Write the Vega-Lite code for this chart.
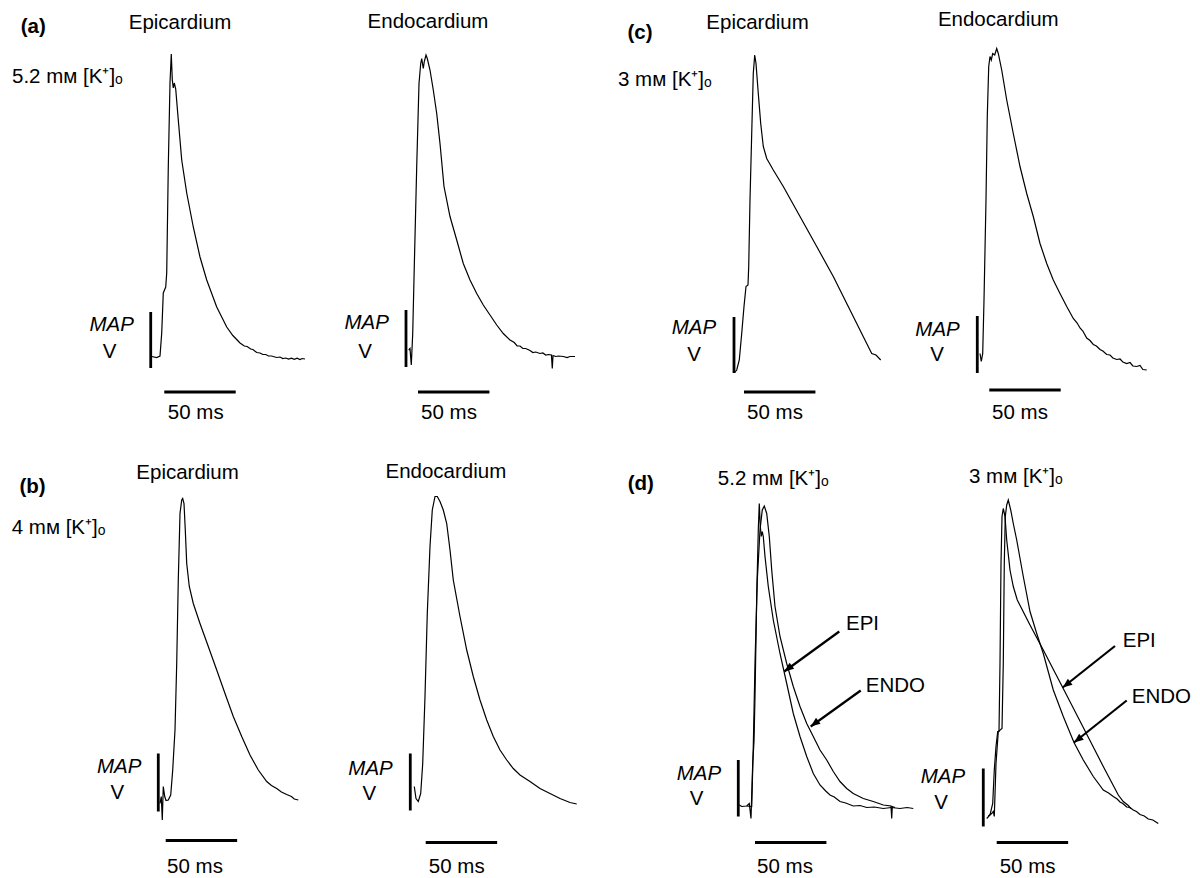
{
  "$schema": "https://vega.github.io/schema/vega-lite/v6.json",
  "padding": 0,
  "background": "white",
  "spacing": 0,
  "config": {
    "view": {"stroke": null},
    "line": {"color": "black", "strokeWidth": 1.2},
    "rule": {"color": "black"},
    "text": {"font": "Liberation Sans", "fontSize": 20.5, "color": "black"}
  },
  "datasets": {
    "aEpi": [{"t":106.2,"v":0.7},{"t":109.7,"v":0.5},{"t":112,"v":0.8},{"t":113.2,"v":5.4},{"t":114.3,"v":13.4},{"t":116,"v":14.6},{"t":116.7,"v":17.4},{"t":117.8,"v":38.6},{"t":119,"v":55.4},{"t":119.9,"v":61.2},{"t":120.6,"v":56},{"t":121.3,"v":54.4},{"t":122,"v":55.4},{"t":123,"v":54.2},{"t":124.8,"v":48},{"t":127.2,"v":40},{"t":130.7,"v":33.4},{"t":135.3,"v":26.6},{"t":140,"v":20.6},{"t":144.7,"v":16},{"t":151.7,"v":10.6},{"t":158.7,"v":6.6},{"t":163,"v":4.9},{"t":168,"v":3.4},{"t":171,"v":2.8},{"t":173,"v":2.7},{"t":175.5,"v":2.2},{"t":177,"v":2.1},{"t":179.7,"v":1.5},{"t":182,"v":1.4},{"t":184,"v":1.1},{"t":186,"v":1.1},{"t":188,"v":0.8},{"t":190,"v":0.8},{"t":193.7,"v":0.5},{"t":196,"v":0.6},{"t":198,"v":0.3},{"t":200,"v":0.4},{"t":202,"v":0.2},{"t":204,"v":0.35},{"t":206,"v":0.15},{"t":208,"v":0.35},{"t":210,"v":0.1},{"t":211.5,"v":0.3},{"t":213.5,"v":0.2}],
    "aEndo": [{"t":62.1,"v":2},{"t":63,"v":2.3},{"t":63.9,"v":-1},{"t":64.9,"v":5.3},{"t":66,"v":18.7},{"t":67.7,"v":38.7},{"t":69.3,"v":55.3},{"t":70.5,"v":59.3},{"t":71.2,"v":60.3},{"t":72.3,"v":58.3},{"t":73,"v":59.7},{"t":74.2,"v":61},{"t":75.1,"v":60.3},{"t":77,"v":58},{"t":79.3,"v":54},{"t":81.7,"v":49.3},{"t":84,"v":43.3},{"t":86.8,"v":34.7},{"t":91,"v":28.7},{"t":95.7,"v":24},{"t":100.3,"v":19.3},{"t":105,"v":16},{"t":109.7,"v":13.3},{"t":114.3,"v":11},{"t":119,"v":9},{"t":123.7,"v":7},{"t":128.3,"v":5.3},{"t":133,"v":4},{"t":136,"v":3.5},{"t":138,"v":2.8},{"t":140,"v":2.8},{"t":142,"v":2.3},{"t":144,"v":2.3},{"t":147,"v":1.9},{"t":149,"v":1.5},{"t":151,"v":1.6},{"t":154,"v":1.3},{"t":156,"v":1.4},{"t":158,"v":1.0},{"t":160,"v":1.1},{"t":162,"v":1},{"t":162.6,"v":-1.7},{"t":163.1,"v":0.9},{"t":165,"v":0.7},{"t":167,"v":0.8},{"t":170.3,"v":0.7},{"t":173,"v":0.5},{"t":175,"v":0.7},{"t":178.5,"v":0.7}],
    "cEpi": [{"t":94.3,"v":-2.5},{"t":95.7,"v":-2},{"t":97.5,"v":0},{"t":99.2,"v":5.3},{"t":100.8,"v":10.7},{"t":102.2,"v":14.7},{"t":103.6,"v":15},{"t":104.1,"v":18.7},{"t":105,"v":32},{"t":106.2,"v":45.3},{"t":107.3,"v":57.3},{"t":108.3,"v":61},{"t":109.2,"v":59.3},{"t":110.8,"v":53.3},{"t":112.5,"v":47.3},{"t":114.3,"v":42.7},{"t":116.7,"v":40.3},{"t":121.3,"v":38},{"t":128.3,"v":34.7},{"t":140,"v":28.7},{"t":151.7,"v":22.7},{"t":163.3,"v":16.7},{"t":175,"v":10},{"t":186.7,"v":3.3},{"t":190.2,"v":1.3},{"t":193.2,"v":1},{"t":196.5,"v":0}],
    "cEndo": [{"t":56,"v":1.3},{"t":56.9,"v":-0.3},{"t":57.9,"v":1.3},{"t":58.8,"v":12},{"t":60.2,"v":32},{"t":61.1,"v":48.7},{"t":62.1,"v":58.7},{"t":63,"v":60.7},{"t":63.9,"v":60},{"t":64.9,"v":61.3},{"t":66.3,"v":61},{"t":67.7,"v":62.3},{"t":68.8,"v":61.3},{"t":71.2,"v":58},{"t":74.7,"v":52},{"t":79.3,"v":45.3},{"t":84,"v":38.7},{"t":88.7,"v":33.3},{"t":93.3,"v":28.7},{"t":98,"v":23.3},{"t":102.7,"v":19.3},{"t":107.3,"v":16},{"t":112,"v":13.3},{"t":116.7,"v":10.7},{"t":121.3,"v":8.3},{"t":124,"v":7.4},{"t":126,"v":6.4},{"t":128,"v":5.8},{"t":130.7,"v":4.4},{"t":133,"v":3.9},{"t":135.3,"v":3.1},{"t":137.5,"v":2.8},{"t":140,"v":2.1},{"t":142,"v":1.8},{"t":144.7,"v":1.1},{"t":147,"v":1.0},{"t":149,"v":0.4},{"t":151.7,"v":0.1},{"t":154,"v":0.2},{"t":156,"v":-0.4},{"t":158.7,"v":-0.7},{"t":161,"v":-0.5},{"t":163,"v":-1.2},{"t":165.7,"v":-1.3},{"t":168,"v":-1.1},{"t":170,"v":-1.9},{"t":172.7,"v":-2}],
    "bEpi": [{"t":112,"v":-0.7},{"t":112.9,"v":0.7},{"t":113.6,"v":-4},{"t":114.3,"v":2.7},{"t":115.3,"v":0.7},{"t":116.2,"v":-0.1},{"t":117.8,"v":0},{"t":119.5,"v":1},{"t":120.9,"v":6},{"t":122.5,"v":14},{"t":123.7,"v":27.3},{"t":124.8,"v":44},{"t":126,"v":57.3},{"t":127.2,"v":60},{"t":127.9,"v":60.3},{"t":128.8,"v":59.3},{"t":129.7,"v":54},{"t":130.7,"v":47.3},{"t":132.5,"v":42.7},{"t":135.3,"v":39.3},{"t":140,"v":35.3},{"t":145.8,"v":30.7},{"t":151.7,"v":26},{"t":157.5,"v":21.3},{"t":163.3,"v":16.7},{"t":169.2,"v":12.7},{"t":175,"v":9},{"t":180.8,"v":6},{"t":186.7,"v":3.7},{"t":190,"v":2.9},{"t":193.7,"v":2.3},{"t":197,"v":1.6},{"t":200.7,"v":1.1},{"t":204,"v":0.7},{"t":206,"v":0.2},{"t":208.8,"v":0}],
    "bEndo": [{"t":66,"v":2.7},{"t":67.2,"v":0.3},{"t":68.8,"v":-0.3},{"t":70.5,"v":1.3},{"t":71.9,"v":7.3},{"t":73.5,"v":20.7},{"t":75.1,"v":37.3},{"t":77,"v":50.7},{"t":78.6,"v":58},{"t":80.5,"v":60.7},{"t":82.1,"v":60.7},{"t":84,"v":59.7},{"t":86.3,"v":58},{"t":88.7,"v":55.3},{"t":91,"v":50},{"t":93.3,"v":44},{"t":98,"v":36.7},{"t":102.7,"v":30},{"t":107.3,"v":24.7},{"t":112,"v":20},{"t":116.7,"v":16},{"t":121.3,"v":12.7},{"t":126,"v":10},{"t":130.7,"v":8},{"t":135.3,"v":6.3},{"t":140,"v":5},{"t":147,"v":3.7},{"t":154,"v":2.3},{"t":161,"v":1.3},{"t":168,"v":0.3},{"t":175,"v":-0.5},{"t":179.7,"v":-0.8}],
    "d52": [{"trace":"EPI","t":97.5,"v":-1},{"trace":"EPI","t":99.2,"v":-1.3},{"trace":"EPI","t":102.7,"v":-1.2},{"trace":"EPI","t":104.5,"v":-0.7},{"trace":"EPI","t":105.7,"v":-3.7},{"trace":"EPI","t":106.9,"v":7.3},{"trace":"EPI","t":107.8,"v":11.7},{"trace":"EPI","t":108.5,"v":20.7},{"trace":"EPI","t":109.7,"v":40.7},{"trace":"EPI","t":110.8,"v":54},{"trace":"EPI","t":111.5,"v":59.3},{"trace":"EPI","t":112.2,"v":54.7},{"trace":"EPI","t":112.9,"v":52.7},{"trace":"EPI","t":113.6,"v":53.7},{"trace":"EPI","t":114.3,"v":52.7},{"trace":"EPI","t":115.5,"v":48.7},{"trace":"EPI","t":117.8,"v":42.7},{"trace":"EPI","t":121.3,"v":36},{"trace":"EPI","t":126,"v":29.3},{"trace":"EPI","t":130.7,"v":23.3},{"trace":"EPI","t":135.3,"v":17.3},{"trace":"EPI","t":140,"v":12.7},{"trace":"EPI","t":144.7,"v":8.7},{"trace":"EPI","t":149.3,"v":5.3},{"trace":"EPI","t":154,"v":3},{"trace":"EPI","t":158,"v":1.8},{"trace":"EPI","t":161,"v":1},{"trace":"EPI","t":164,"v":0.6},{"trace":"EPI","t":168,"v":-0.3},{"trace":"EPI","t":172,"v":-0.6},{"trace":"EPI","t":177.3,"v":-1.2},{"trace":"EPI","t":182,"v":-1.1},{"trace":"EPI","t":186.7,"v":-1.5},{"trace":"EPI","t":192,"v":-1.4},{"trace":"EPI","t":198.3,"v":-1.7},{"trace":"EPI","t":204,"v":-1.5},{"trace":"EPI","t":210,"v":-1.7},{"trace":"EPI","t":215,"v":-1.5},{"trace":"EPI","t":219.3,"v":-1.7},
      {"trace":"ENDO","t":102.7,"v":-1.2},{"trace":"ENDO","t":106.2,"v":-1.3},{"trace":"ENDO","t":107.3,"v":10.7},{"trace":"ENDO","t":108.5,"v":27.3},{"trace":"ENDO","t":110.1,"v":44},{"trace":"ENDO","t":112,"v":54},{"trace":"ENDO","t":113.6,"v":58},{"trace":"ENDO","t":115,"v":58.8},{"trace":"ENDO","t":116.7,"v":57.3},{"trace":"ENDO","t":118.5,"v":52.7},{"trace":"ENDO","t":120.2,"v":46},{"trace":"ENDO","t":122.5,"v":38.7},{"trace":"ENDO","t":126,"v":32.7},{"trace":"ENDO","t":130.7,"v":27.3},{"trace":"ENDO","t":135.3,"v":22.7},{"trace":"ENDO","t":140,"v":18.7},{"trace":"ENDO","t":144.7,"v":15.3},{"trace":"ENDO","t":149.3,"v":12.7},{"trace":"ENDO","t":154,"v":10},{"trace":"ENDO","t":158.7,"v":8},{"trace":"ENDO","t":163.3,"v":5.7},{"trace":"ENDO","t":168,"v":3.7},{"trace":"ENDO","t":172.7,"v":2.3},{"trace":"ENDO","t":177.3,"v":1.3},{"trace":"ENDO","t":184.3,"v":0.3},{"trace":"ENDO","t":191.3,"v":-0.3},{"trace":"ENDO","t":198.3,"v":-1},{"trace":"ENDO","t":203.7,"v":-1.2},{"trace":"ENDO","t":204.2,"v":-3.7},{"trace":"ENDO","t":204.6,"v":-1.3},{"trace":"ENDO","t":206.5,"v":-1.5}],
    "d3": [{"trace":"EPI","t":39.7,"v":-3.7},{"trace":"EPI","t":42,"v":-3},{"trace":"EPI","t":43.9,"v":-0.7},{"trace":"EPI","t":45,"v":6},{"trace":"EPI","t":46.2,"v":10.7},{"trace":"EPI","t":47.4,"v":13.7},{"trace":"EPI","t":48.3,"v":13.7},{"trace":"EPI","t":49,"v":27.3},{"trace":"EPI","t":49.7,"v":47.3},{"trace":"EPI","t":50.4,"v":56.7},{"trace":"EPI","t":51.3,"v":58.3},{"trace":"EPI","t":52.5,"v":56.7},{"trace":"EPI","t":53.7,"v":52},{"trace":"EPI","t":56,"v":46},{"trace":"EPI","t":58.3,"v":42.7},{"trace":"EPI","t":61.1,"v":40},{"trace":"EPI","t":70,"v":35},{"trace":"EPI","t":79.3,"v":30},{"trace":"EPI","t":93.8,"v":22},{"trace":"EPI","t":107.3,"v":14.5},{"trace":"EPI","t":121.3,"v":6.7},{"trace":"EPI","t":131.8,"v":1},{"trace":"EPI","t":135.3,"v":-0.3},{"trace":"EPI","t":138.8,"v":-1.1},{"trace":"EPI","t":140.5,"v":-1.7},
      {"trace":"ENDO","t":40.8,"v":-3.2},{"trace":"ENDO","t":43.2,"v":-2.7},{"trace":"ENDO","t":44.3,"v":-2.3},{"trace":"ENDO","t":45,"v":-3.3},{"trace":"ENDO","t":46.2,"v":7.3},{"trace":"ENDO","t":47.8,"v":13.7},{"trace":"ENDO","t":50.4,"v":14.3},{"trace":"ENDO","t":51.3,"v":27.3},{"trace":"ENDO","t":52,"v":47.3},{"trace":"ENDO","t":52.7,"v":56.7},{"trace":"ENDO","t":53.7,"v":59},{"trace":"ENDO","t":54.8,"v":60},{"trace":"ENDO","t":56.5,"v":58},{"trace":"ENDO","t":58.3,"v":55.3},{"trace":"ENDO","t":60.7,"v":52},{"trace":"ENDO","t":65.3,"v":44.7},{"trace":"ENDO","t":70,"v":37.7},{"trace":"ENDO","t":74.7,"v":33.3},{"trace":"ENDO","t":79.3,"v":29.3},{"trace":"ENDO","t":86.3,"v":22},{"trace":"ENDO","t":93.3,"v":16.7},{"trace":"ENDO","t":100.8,"v":11.5},{"trace":"ENDO","t":107.3,"v":8},{"trace":"ENDO","t":114.3,"v":4.7},{"trace":"ENDO","t":121.3,"v":2},{"trace":"ENDO","t":125,"v":1.4},{"trace":"ENDO","t":128.3,"v":0.7},{"trace":"ENDO","t":131,"v":0.2},{"trace":"ENDO","t":133,"v":-0.4},{"trace":"ENDO","t":135,"v":-0.7},{"trace":"ENDO","t":137.7,"v":-1.4},{"trace":"ENDO","t":140,"v":-1.5},{"trace":"ENDO","t":142.3,"v":-2.0},{"trace":"ENDO","t":144.5,"v":-2.3},{"trace":"ENDO","t":147,"v":-2.9},{"trace":"ENDO","t":150,"v":-3.2},{"trace":"ENDO","t":152.8,"v":-3.8},{"trace":"ENDO","t":156,"v":-4.0},{"trace":"ENDO","t":159.8,"v":-4.7}],
    "bars": [
      {"panel":"a-epi","bar":"MAP","t":105.5,"v":9.6,"t2":105.5,"v2":-1.6},{"panel":"a-epi","bar":"time","t":115,"v":-6.4,"t2":165,"v2":-6.4},
      {"panel":"a-endo","bar":"MAP","t":60.2,"v":10,"t2":60.2,"v2":-1.4},{"panel":"a-endo","bar":"time","t":68.6,"v":-6.4,"t2":118.6,"v2":-6.4},
      {"panel":"c-epi","bar":"MAP","t":93.8,"v":8.6,"t2":93.8,"v2":-2.6},{"panel":"c-epi","bar":"time","t":100.8,"v":-6.4,"t2":150.8,"v2":-6.4},
      {"panel":"c-endo","bar":"MAP","t":54.1,"v":8.8,"t2":54.1,"v2":-2.6},{"panel":"c-endo","bar":"time","t":62.5,"v":-6,"t2":112.5,"v2":-6},
      {"panel":"b-epi","bar":"MAP","t":110.8,"v":9.3,"t2":110.8,"v2":-2.3},{"panel":"b-epi","bar":"time","t":116,"v":-8.1,"t2":166,"v2":-8.1},
      {"panel":"b-endo","bar":"MAP","t":63.2,"v":9.3,"t2":63.2,"v2":-2.1},{"panel":"b-endo","bar":"time","t":74,"v":-8.5,"t2":124,"v2":-8.5},
      {"panel":"d-52","bar":"MAP","t":96.8,"v":8,"t2":96.8,"v2":-3.3},{"panel":"d-52","bar":"time","t":108.5,"v":-8.5,"t2":158.5,"v2":-8.5},
      {"panel":"d-3","bar":"MAP","t":37.3,"v":6.3,"t2":37.3,"v2":-5.3},{"panel":"d-3","bar":"time","t":46.7,"v":-8.5,"t2":96.7,"v2":-8.5}
    ],
    "arrows": [
      {"panel":"d-52","label":"EPI","t":167.5,"v":33.7,"t2":129,"v2":25.7},
      {"panel":"d-52","label":"ENDO","t":182.5,"v":21.9,"t2":147.5,"v2":14.7},
      {"panel":"d-3","label":"EPI","t":129.5,"v":30.8,"t2":92.9,"v2":22.5},
      {"panel":"d-3","label":"ENDO","t":137.7,"v":19.9,"t2":100.8,"v2":11.5}
    ],
    "labels": [
      {"panel":"a-epi","kind":"letter","text":"(a)","t":23.3,"v":66.6},
      {"panel":"a-epi","kind":"title","text":"Epicardium","t":126,"v":67.4},
      {"panel":"a-epi","kind":"cond","text":"5.2 mᴍ [K⁺]ₒ","t":8.4,"v":56.6},
      {"panel":"a-epi","kind":"map","text":"MAP","t":78.2,"v":7},
      {"panel":"a-epi","kind":"unit","text":"V","t":76.7,"v":1.6},
      {"panel":"a-epi","kind":"scale","text":"50 ms","t":137,"v":-10.6},
      {"panel":"a-endo","kind":"title","text":"Endocardium","t":75.6,"v":67.6},
      {"panel":"a-endo","kind":"map","text":"MAP","t":32.7,"v":7.4},
      {"panel":"a-endo","kind":"unit","text":"V","t":31.5,"v":1.6},
      {"panel":"a-endo","kind":"scale","text":"50 ms","t":90.3,"v":-10.6},
      {"panel":"c-epi","kind":"letter","text":"(c)","t":28,"v":65.4},
      {"panel":"c-epi","kind":"title","text":"Epicardium","t":110.3,"v":67.4},
      {"panel":"c-epi","kind":"cond","text":"3 mᴍ [K⁺]ₒ","t":12.6,"v":56},
      {"panel":"c-epi","kind":"map","text":"MAP","t":65.8,"v":6.4},
      {"panel":"c-epi","kind":"unit","text":"V","t":65.8,"v":1},
      {"panel":"c-epi","kind":"scale","text":"50 ms","t":122.5,"v":-10.6},
      {"panel":"c-endo","kind":"title","text":"Endocardium","t":68.8,"v":68},
      {"panel":"c-endo","kind":"map","text":"MAP","t":26.3,"v":6},
      {"panel":"c-endo","kind":"unit","text":"V","t":25.9,"v":1},
      {"panel":"c-endo","kind":"scale","text":"50 ms","t":84,"v":-10.6},
      {"panel":"b-epi","kind":"letter","text":"(b)","t":22.8,"v":62.7},
      {"panel":"b-epi","kind":"title","text":"Epicardium","t":131.3,"v":65.5},
      {"panel":"b-epi","kind":"cond","text":"4 mᴍ [K⁺]ₒ","t":8.2,"v":54.4},
      {"panel":"b-epi","kind":"map","text":"MAP","t":83.4,"v":6.7},
      {"panel":"b-epi","kind":"unit","text":"V","t":82.1,"v":1.5},
      {"panel":"b-epi","kind":"scale","text":"50 ms","t":136.5,"v":-13.4},
      {"panel":"b-endo","kind":"title","text":"Endocardium","t":88.1,"v":65.7},
      {"panel":"b-endo","kind":"map","text":"MAP","t":35.4,"v":6.3},
      {"panel":"b-endo","kind":"unit","text":"V","t":34.5,"v":1.3},
      {"panel":"b-endo","kind":"scale","text":"50 ms","t":95.7,"v":-13.4},
      {"panel":"d-52","kind":"letter","text":"(d)","t":28.6,"v":63.3},
      {"panel":"d-52","kind":"title","text":"5.2 mᴍ [K⁺]ₒ","t":121.3,"v":64.3},
      {"panel":"d-52","kind":"map","text":"MAP","t":69.3,"v":5.3},
      {"panel":"d-52","kind":"unit","text":"V","t":67.7,"v":0.3},
      {"panel":"d-52","kind":"scale","text":"50 ms","t":129.5,"v":-13.4},
      {"panel":"d-52","kind":"arrow","text":"EPI","t":172.2,"v":35.3},
      {"panel":"d-52","kind":"arrow","text":"ENDO","t":186,"v":22.8},
      {"panel":"d-3","kind":"title","text":"3 mᴍ [K⁺]ₒ","t":60.1,"v":64.7},
      {"panel":"d-3","kind":"map","text":"MAP","t":9.1,"v":4.6},
      {"panel":"d-3","kind":"unit","text":"V","t":7.7,"v":-0.6},
      {"panel":"d-3","kind":"scale","text":"50 ms","t":68.3,"v":-13.4},
      {"panel":"d-3","kind":"arrow","text":"EPI","t":134.9,"v":31.9},
      {"panel":"d-3","kind":"arrow","text":"ENDO","t":141.2,"v":20.7}
    ]
  },
  "vconcat": [
    {
      "spacing": 0,
      "bounds": "flush",
      "hconcat": [
        {
          "width": 320, "height": 430,
          "encoding": {
            "x": {"field": "t", "type": "quantitative", "axis": null, "scale": {"domain": [0, 224], "nice": false, "zero": false}},
            "y": {"field": "v", "type": "quantitative", "axis": null, "scale": {"domain": [-14, 72], "nice": false, "zero": false}}
          },
          "layer": [
            {"data": {"name": "aEpi"}, "mark": {"type": "line"}},
            {"data": {"name": "bars"}, "transform": [{"filter": "datum.panel === 'a-epi'"}], "mark": {"type": "rule", "strokeWidth": 2.8}, "encoding": {"x2": {"field": "t2"}, "y2": {"field": "v2"}}},
            {"data": {"name": "labels"}, "transform": [{"filter": "datum.panel === 'a-epi' && (datum.kind === 'title' || datum.kind === 'scale' || datum.kind === 'unit')"}], "mark": {"type": "text", "align": "center", "baseline": "middle"}, "encoding": {"text": {"field": "text"}}},
            {"data": {"name": "labels"}, "transform": [{"filter": "datum.panel === 'a-epi' && (datum.kind === 'cond' || datum.kind === 'arrow')"}], "mark": {"type": "text", "align": "left", "baseline": "middle"}, "encoding": {"text": {"field": "text"}}},
            {"data": {"name": "labels"}, "transform": [{"filter": "datum.panel === 'a-epi' && datum.kind === 'letter'"}], "mark": {"type": "text", "align": "center", "baseline": "middle", "fontWeight": "bold"}, "encoding": {"text": {"field": "text"}}},
            {"data": {"name": "labels"}, "transform": [{"filter": "datum.panel === 'a-epi' && datum.kind === 'map'"}], "mark": {"type": "text", "align": "center", "baseline": "middle", "fontStyle": "italic"}, "encoding": {"text": {"field": "text"}}}
          ]
        },
        {
          "width": 280, "height": 430,
          "encoding": {
            "x": {"field": "t", "type": "quantitative", "axis": null, "scale": {"domain": [0, 196], "nice": false, "zero": false}},
            "y": {"field": "v", "type": "quantitative", "axis": null, "scale": {"domain": [-14, 72], "nice": false, "zero": false}}
          },
          "layer": [
            {"data": {"name": "aEndo"}, "mark": {"type": "line"}},
            {"data": {"name": "bars"}, "transform": [{"filter": "datum.panel === 'a-endo'"}], "mark": {"type": "rule", "strokeWidth": 2.8}, "encoding": {"x2": {"field": "t2"}, "y2": {"field": "v2"}}},
            {"data": {"name": "labels"}, "transform": [{"filter": "datum.panel === 'a-endo' && (datum.kind === 'title' || datum.kind === 'scale' || datum.kind === 'unit')"}], "mark": {"type": "text", "align": "center", "baseline": "middle"}, "encoding": {"text": {"field": "text"}}},
            {"data": {"name": "labels"}, "transform": [{"filter": "datum.panel === 'a-endo' && datum.kind === 'map'"}], "mark": {"type": "text", "align": "center", "baseline": "middle", "fontStyle": "italic"}, "encoding": {"text": {"field": "text"}}}
          ]
        },
        {
          "width": 300, "height": 430,
          "encoding": {
            "x": {"field": "t", "type": "quantitative", "axis": null, "scale": {"domain": [0, 210], "nice": false, "zero": false}},
            "y": {"field": "v", "type": "quantitative", "axis": null, "scale": {"domain": [-14, 72], "nice": false, "zero": false}}
          },
          "layer": [
            {"data": {"name": "cEpi"}, "mark": {"type": "line"}},
            {"data": {"name": "bars"}, "transform": [{"filter": "datum.panel === 'c-epi'"}], "mark": {"type": "rule", "strokeWidth": 2.8}, "encoding": {"x2": {"field": "t2"}, "y2": {"field": "v2"}}},
            {"data": {"name": "labels"}, "transform": [{"filter": "datum.panel === 'c-epi' && (datum.kind === 'title' || datum.kind === 'scale' || datum.kind === 'unit')"}], "mark": {"type": "text", "align": "center", "baseline": "middle"}, "encoding": {"text": {"field": "text"}}},
            {"data": {"name": "labels"}, "transform": [{"filter": "datum.panel === 'c-epi' && (datum.kind === 'cond' || datum.kind === 'arrow')"}], "mark": {"type": "text", "align": "left", "baseline": "middle"}, "encoding": {"text": {"field": "text"}}},
            {"data": {"name": "labels"}, "transform": [{"filter": "datum.panel === 'c-epi' && datum.kind === 'letter'"}], "mark": {"type": "text", "align": "center", "baseline": "middle", "fontWeight": "bold"}, "encoding": {"text": {"field": "text"}}},
            {"data": {"name": "labels"}, "transform": [{"filter": "datum.panel === 'c-epi' && datum.kind === 'map'"}], "mark": {"type": "text", "align": "center", "baseline": "middle", "fontStyle": "italic"}, "encoding": {"text": {"field": "text"}}}
          ]
        },
        {
          "width": 300, "height": 430,
          "encoding": {
            "x": {"field": "t", "type": "quantitative", "axis": null, "scale": {"domain": [0, 210], "nice": false, "zero": false}},
            "y": {"field": "v", "type": "quantitative", "axis": null, "scale": {"domain": [-14, 72], "nice": false, "zero": false}}
          },
          "layer": [
            {"data": {"name": "cEndo"}, "mark": {"type": "line"}},
            {"data": {"name": "bars"}, "transform": [{"filter": "datum.panel === 'c-endo'"}], "mark": {"type": "rule", "strokeWidth": 2.8}, "encoding": {"x2": {"field": "t2"}, "y2": {"field": "v2"}}},
            {"data": {"name": "labels"}, "transform": [{"filter": "datum.panel === 'c-endo' && (datum.kind === 'title' || datum.kind === 'scale' || datum.kind === 'unit')"}], "mark": {"type": "text", "align": "center", "baseline": "middle"}, "encoding": {"text": {"field": "text"}}},
            {"data": {"name": "labels"}, "transform": [{"filter": "datum.panel === 'c-endo' && datum.kind === 'map'"}], "mark": {"type": "text", "align": "center", "baseline": "middle", "fontStyle": "italic"}, "encoding": {"text": {"field": "text"}}}
          ]
        }
      ]
    },
    {
      "spacing": 0,
      "bounds": "flush",
      "hconcat": [
        {
          "width": 320, "height": 448,
          "encoding": {
            "x": {"field": "t", "type": "quantitative", "axis": null, "scale": {"domain": [0, 224], "nice": false, "zero": false}},
            "y": {"field": "v", "type": "quantitative", "axis": null, "scale": {"domain": [-15.6, 74], "nice": false, "zero": false}}
          },
          "layer": [
            {"data": {"name": "bEpi"}, "mark": {"type": "line"}},
            {"data": {"name": "bars"}, "transform": [{"filter": "datum.panel === 'b-epi'"}], "mark": {"type": "rule", "strokeWidth": 2.8}, "encoding": {"x2": {"field": "t2"}, "y2": {"field": "v2"}}},
            {"data": {"name": "labels"}, "transform": [{"filter": "datum.panel === 'b-epi' && (datum.kind === 'title' || datum.kind === 'scale' || datum.kind === 'unit')"}], "mark": {"type": "text", "align": "center", "baseline": "middle"}, "encoding": {"text": {"field": "text"}}},
            {"data": {"name": "labels"}, "transform": [{"filter": "datum.panel === 'b-epi' && (datum.kind === 'cond' || datum.kind === 'arrow')"}], "mark": {"type": "text", "align": "left", "baseline": "middle"}, "encoding": {"text": {"field": "text"}}},
            {"data": {"name": "labels"}, "transform": [{"filter": "datum.panel === 'b-epi' && datum.kind === 'letter'"}], "mark": {"type": "text", "align": "center", "baseline": "middle", "fontWeight": "bold"}, "encoding": {"text": {"field": "text"}}},
            {"data": {"name": "labels"}, "transform": [{"filter": "datum.panel === 'b-epi' && datum.kind === 'map'"}], "mark": {"type": "text", "align": "center", "baseline": "middle", "fontStyle": "italic"}, "encoding": {"text": {"field": "text"}}}
          ]
        },
        {
          "width": 280, "height": 448,
          "encoding": {
            "x": {"field": "t", "type": "quantitative", "axis": null, "scale": {"domain": [0, 196], "nice": false, "zero": false}},
            "y": {"field": "v", "type": "quantitative", "axis": null, "scale": {"domain": [-15.6, 74], "nice": false, "zero": false}}
          },
          "layer": [
            {"data": {"name": "bEndo"}, "mark": {"type": "line"}},
            {"data": {"name": "bars"}, "transform": [{"filter": "datum.panel === 'b-endo'"}], "mark": {"type": "rule", "strokeWidth": 2.8}, "encoding": {"x2": {"field": "t2"}, "y2": {"field": "v2"}}},
            {"data": {"name": "labels"}, "transform": [{"filter": "datum.panel === 'b-endo' && (datum.kind === 'title' || datum.kind === 'scale' || datum.kind === 'unit')"}], "mark": {"type": "text", "align": "center", "baseline": "middle"}, "encoding": {"text": {"field": "text"}}},
            {"data": {"name": "labels"}, "transform": [{"filter": "datum.panel === 'b-endo' && datum.kind === 'map'"}], "mark": {"type": "text", "align": "center", "baseline": "middle", "fontStyle": "italic"}, "encoding": {"text": {"field": "text"}}}
          ]
        },
        {
          "width": 330, "height": 448,
          "encoding": {
            "x": {"field": "t", "type": "quantitative", "axis": null, "scale": {"domain": [0, 231], "nice": false, "zero": false}},
            "y": {"field": "v", "type": "quantitative", "axis": null, "scale": {"domain": [-15.6, 74], "nice": false, "zero": false}}
          },
          "layer": [
            {"data": {"name": "d52"}, "mark": {"type": "line"}, "encoding": {"detail": {"field": "trace"}}},
            {"data": {"name": "bars"}, "transform": [{"filter": "datum.panel === 'd-52'"}], "mark": {"type": "rule", "strokeWidth": 2.8}, "encoding": {"x2": {"field": "t2"}, "y2": {"field": "v2"}}},
            {"data": {"name": "arrows"}, "transform": [{"filter": "datum.panel === 'd-52'"}], "mark": {"type": "rule", "strokeWidth": 2.2}, "encoding": {"x2": {"field": "t2"}, "y2": {"field": "v2"}}},
            {"data": {"name": "arrows"}, "transform": [{"filter": "datum.panel === 'd-52'"}], "mark": {"type": "point", "shape": "M0,0L-0.8,2L0.8,2Z", "filled": true, "color": "black", "opacity": 1, "size": 90, "angle": 233},
              "encoding": {
                "x": {"field": "t2", "type": "quantitative", "axis": null, "scale": {"domain": [0, 231], "nice": false, "zero": false}},
                "y": {"field": "v2", "type": "quantitative", "axis": null, "scale": {"domain": [-15.6, 74], "nice": false, "zero": false}}
              }},
            {"data": {"name": "labels"}, "transform": [{"filter": "datum.panel === 'd-52' && (datum.kind === 'title' || datum.kind === 'scale' || datum.kind === 'unit')"}], "mark": {"type": "text", "align": "center", "baseline": "middle"}, "encoding": {"text": {"field": "text"}}},
            {"data": {"name": "labels"}, "transform": [{"filter": "datum.panel === 'd-52' && (datum.kind === 'cond' || datum.kind === 'arrow')"}], "mark": {"type": "text", "align": "left", "baseline": "middle"}, "encoding": {"text": {"field": "text"}}},
            {"data": {"name": "labels"}, "transform": [{"filter": "datum.panel === 'd-52' && datum.kind === 'letter'"}], "mark": {"type": "text", "align": "center", "baseline": "middle", "fontWeight": "bold"}, "encoding": {"text": {"field": "text"}}},
            {"data": {"name": "labels"}, "transform": [{"filter": "datum.panel === 'd-52' && datum.kind === 'map'"}], "mark": {"type": "text", "align": "center", "baseline": "middle", "fontStyle": "italic"}, "encoding": {"text": {"field": "text"}}}
          ]
        },
        {
          "width": 270, "height": 448,
          "encoding": {
            "x": {"field": "t", "type": "quantitative", "axis": null, "scale": {"domain": [0, 189], "nice": false, "zero": false}},
            "y": {"field": "v", "type": "quantitative", "axis": null, "scale": {"domain": [-15.6, 74], "nice": false, "zero": false}}
          },
          "layer": [
            {"data": {"name": "d3"}, "mark": {"type": "line"}, "encoding": {"detail": {"field": "trace"}}},
            {"data": {"name": "bars"}, "transform": [{"filter": "datum.panel === 'd-3'"}], "mark": {"type": "rule", "strokeWidth": 2.8}, "encoding": {"x2": {"field": "t2"}, "y2": {"field": "v2"}}},
            {"data": {"name": "arrows"}, "transform": [{"filter": "datum.panel === 'd-3'"}], "mark": {"type": "rule", "strokeWidth": 2.2}, "encoding": {"x2": {"field": "t2"}, "y2": {"field": "v2"}}},
            {"data": {"name": "arrows"}, "transform": [{"filter": "datum.panel === 'd-3'"}], "mark": {"type": "point", "shape": "M0,0L-0.8,2L0.8,2Z", "filled": true, "color": "black", "opacity": 1, "size": 90, "angle": 232},
              "encoding": {
                "x": {"field": "t2", "type": "quantitative", "axis": null, "scale": {"domain": [0, 189], "nice": false, "zero": false}},
                "y": {"field": "v2", "type": "quantitative", "axis": null, "scale": {"domain": [-15.6, 74], "nice": false, "zero": false}}
              }},
            {"data": {"name": "labels"}, "transform": [{"filter": "datum.panel === 'd-3' && (datum.kind === 'title' || datum.kind === 'scale' || datum.kind === 'unit')"}], "mark": {"type": "text", "align": "center", "baseline": "middle"}, "encoding": {"text": {"field": "text"}}},
            {"data": {"name": "labels"}, "transform": [{"filter": "datum.panel === 'd-3' && (datum.kind === 'cond' || datum.kind === 'arrow')"}], "mark": {"type": "text", "align": "left", "baseline": "middle"}, "encoding": {"text": {"field": "text"}}},
            {"data": {"name": "labels"}, "transform": [{"filter": "datum.panel === 'd-3' && datum.kind === 'map'"}], "mark": {"type": "text", "align": "center", "baseline": "middle", "fontStyle": "italic"}, "encoding": {"text": {"field": "text"}}}
          ]
        }
      ]
    }
  ]
}
